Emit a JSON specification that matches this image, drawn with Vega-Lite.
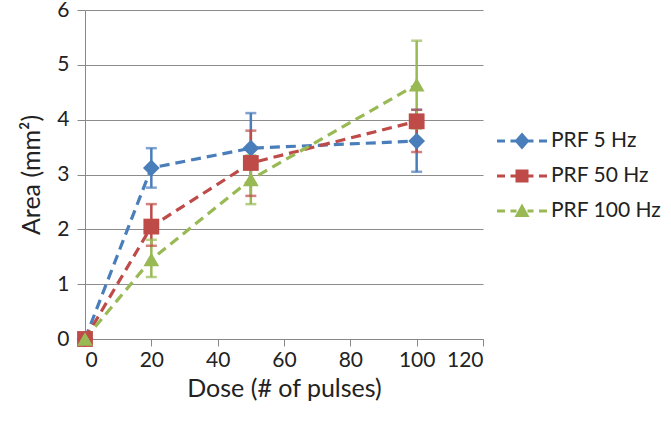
{
  "$schema": "https://vega.github.io/schema/vega-lite/v6.json",
  "width": 398,
  "height": 329,
  "autosize": {"type": "none"},
  "padding": {"left": 85, "top": 10, "right": 188, "bottom": 84},
  "background": "white",
  "config": {
    "font": "Lato",
    "view": {"stroke": null},
    "axis": {"labelFont": "Lato", "titleFont": "Lato", "labelColor": "#222", "titleColor": "#222", "titleFontWeight": "normal", "labelFontSize": 21, "titleFontSize": 25, "domainColor": "#888", "tickColor": "#888", "gridColor": "#8c8c8c"},
    "legend": {"orient": "none", "legendX": 412, "legendY": 106, "labelFontSize": 21, "labelFont": "Lato", "labelColor": "#222", "symbolSize": 2500, "symbolOpacity": 1, "symbolStrokeWidth": 0, "rowPadding": -16, "labelOffset": 4, "labelLimit": 300}
  },
  "data": {"values": [
    {"series": "PRF 5 Hz", "dose": 0, "area": 0, "lo": 0, "hi": 0},
    {"series": "PRF 5 Hz", "dose": 20, "area": 3.12, "lo": 2.76, "hi": 3.48},
    {"series": "PRF 5 Hz", "dose": 50, "area": 3.48, "lo": 2.84, "hi": 4.12},
    {"series": "PRF 5 Hz", "dose": 100, "area": 3.61, "lo": 3.05, "hi": 4.18},
    {"series": "PRF 50 Hz", "dose": 0, "area": 0, "lo": 0, "hi": 0},
    {"series": "PRF 50 Hz", "dose": 20, "area": 2.05, "lo": 1.7, "hi": 2.46},
    {"series": "PRF 50 Hz", "dose": 50, "area": 3.21, "lo": 2.61, "hi": 3.8},
    {"series": "PRF 50 Hz", "dose": 100, "area": 3.97, "lo": 3.41, "hi": 4.18},
    {"series": "PRF 100 Hz", "dose": 0, "area": 0, "lo": 0, "hi": 0},
    {"series": "PRF 100 Hz", "dose": 20, "area": 1.45, "lo": 1.13, "hi": 1.81},
    {"series": "PRF 100 Hz", "dose": 50, "area": 2.91, "lo": 2.46, "hi": 3.35},
    {"series": "PRF 100 Hz", "dose": 100, "area": 4.64, "lo": 3.84, "hi": 5.44}
  ]},
  "encoding": {
    "x": {"field": "dose", "type": "quantitative", "scale": {"domain": [0, 120], "nice": false},
      "axis": {"values": [0, 20, 40, 60, 80, 100, 120], "format": "d", "grid": false, "tickSize": 7, "labelPadding": 3, "title": "Dose (# of pulses)", "titlePadding": 6}},
    "color": {"field": "series", "type": "nominal",
      "scale": {"domain": ["PRF 5 Hz", "PRF 50 Hz", "PRF 100 Hz"], "range": ["#4a7ebb", "#be4b48", "#98b954"]},
      "legend": {"title": null}}
  },
  "layer": [
    {"mark": {"type": "rule", "strokeWidth": 2.5},
      "encoding": {"y": {"field": "lo", "type": "quantitative"}, "y2": {"field": "hi"}}},
    {"mark": {"type": "tick", "orient": "horizontal", "size": 11, "thickness": 2.5},
      "encoding": {"y": {"field": "hi", "type": "quantitative"}}},
    {"mark": {"type": "tick", "orient": "horizontal", "size": 11, "thickness": 2.5},
      "encoding": {"y": {"field": "lo", "type": "quantitative"}}},
    {"mark": {"type": "line", "strokeWidth": 3.2, "strokeDash": [10, 6]},
      "encoding": {"y": {"field": "area", "type": "quantitative", "scale": {"domain": [0, 6], "nice": false},
        "axis": {"values": [0, 1, 2, 3, 4, 5, 6], "format": "d", "grid": true, "tickSize": 8, "labelPadding": 8, "title": "Area (mm²)", "titlePadding": 12}}}},
    {"transform": [{"filter": "datum.series === 'PRF 5 Hz'"}],
      "mark": {"type": "point", "filled": true, "opacity": 1, "size": 280, "shape": "diamond"},
      "encoding": {"y": {"field": "area", "type": "quantitative"}}},
    {"transform": [{"filter": "datum.series === 'PRF 50 Hz'"}],
      "mark": {"type": "point", "filled": true, "opacity": 1, "size": 250, "shape": "square"},
      "encoding": {"y": {"field": "area", "type": "quantitative"}}},
    {"transform": [{"filter": "datum.series === 'PRF 100 Hz'"}],
      "mark": {"type": "point", "filled": true, "opacity": 1, "size": 250, "shape": "triangle-up"},
      "encoding": {"y": {"field": "area", "type": "quantitative"}}},
    {"transform": [{"filter": "datum.dose < 0"}],
      "mark": {"type": "point", "filled": true, "opacity": 1},
      "encoding": {
        "y": {"field": "area", "type": "quantitative"},
        "shape": {"field": "series", "type": "nominal",
          "scale": {"domain": ["PRF 5 Hz", "PRF 50 Hz", "PRF 100 Hz"], "range": [
            "M-1,-0.06H-0.68V0.06H-1Z M-0.46,-0.06H-0.22V0.06H-0.46Z M0.22,-0.06H0.46V0.06H0.22Z M0.68,-0.06H1V0.06H0.68Z M0,-0.34L0.3,0L0,0.34L-0.3,0Z",
            "M-1,-0.06H-0.68V0.06H-1Z M-0.46,-0.06H-0.22V0.06H-0.46Z M0.22,-0.06H0.46V0.06H0.22Z M0.68,-0.06H1V0.06H0.68Z M-0.26,-0.26H0.26V0.26H-0.26Z",
            "M-1,-0.06H-0.68V0.06H-1Z M-0.46,-0.06H-0.22V0.06H-0.46Z M0.22,-0.06H0.46V0.06H0.22Z M0.68,-0.06H1V0.06H0.68Z M0,-0.3L0.3,0.24L-0.3,0.24Z"
          ]},
          "legend": {"title": null}}
      }}
  ]
}
